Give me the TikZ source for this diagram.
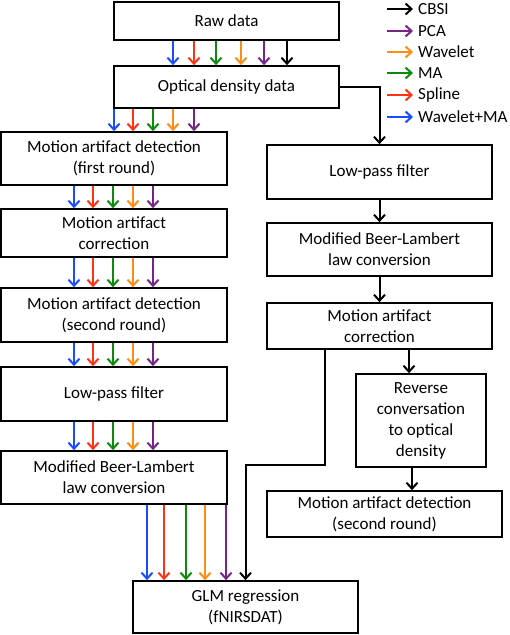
\documentclass[tikz,border=0pt]{standalone}
\usepackage{fontspec}
\setmainfont{Carlito}
\usetikzlibrary{arrows.meta,calc}
\definecolor{cblue}{RGB}{25,75,255}
\definecolor{cred}{RGB}{255,50,20}
\definecolor{cgreen}{RGB}{10,140,10}
\definecolor{corange}{RGB}{255,140,20}
\definecolor{cpurple}{RGB}{120,35,135}
\begin{document}
\begin{tikzpicture}[x=1pt,y=-1pt,
  box/.style={draw=black,line width=1.7pt,inner sep=0pt,align=center,font=\fontsize{17}{21}\selectfont},
  arr/.style={line width=2pt,-{Straight Barb[length=6pt,width=11pt]}},
  lab/.style={anchor=west,inner sep=0pt,font=\fontsize{17}{21}\selectfont}]
\useasboundingbox (0,0) rectangle (510,635);
% left column
\node[box,minimum width=225pt,minimum height=38pt] (raw) at (226.5,21) {Raw data};
\node[box,minimum width=225pt,minimum height=42pt] (od) at (226.5,87) {Optical density data};
\node[box,minimum width=226pt,minimum height=53pt] (mad1) at (114,158.5) {Motion artifact detection\\(first round)};
\node[box,minimum width=226pt,minimum height=48pt] (mac) at (114,233) {Motion artifact\\correction};
\node[box,minimum width=226pt,minimum height=54pt] (mad2) at (114,315) {Motion artifact detection\\(second round)};
\node[box,minimum width=226pt,minimum height=54pt] (lpf) at (114,394) {Low-pass filter};
\node[box,minimum width=226pt,minimum height=53pt] (mbl) at (114,477.5) {Modified Beer-Lambert\\law conversion};
\node[box,minimum width=225pt,minimum height=52pt] (glm) at (245.5,607) {GLM regression\\(fNIRSDAT)};
% right column
\node[box,minimum width=225pt,minimum height=54pt] (lpfR) at (379.5,172) {Low-pass filter};
\node[box,minimum width=225pt,minimum height=53pt] (mblR) at (379.5,249.5) {Modified Beer-Lambert\\law conversion};
\node[box,minimum width=225pt,minimum height=46pt] (macR) at (379.5,326) {Motion artifact\\correction};
\node[box,minimum width=130pt,minimum height=93pt] (rev) at (421,420.5) {Reverse\\conversation\\to optical\\density};
\node[box,minimum width=235pt,minimum height=46pt] (mad2R) at (384.5,514) {Motion artifact detection\\(second round)};
% raw -> od
\foreach \x/\c in {173/cblue,194/cred,216/cgreen,241/corange,264/cpurple,287/black}
  \draw[arr,\c] (raw.south -| \x,0) -- (od.north -| \x,0);
% od -> mad1
\foreach \x/\c in {114/cblue,133/cred,153/cgreen,173/corange,194/cpurple}
  \draw[arr,\c] (od.south -| \x,0) -- (mad1.north -| \x,0);
% left chain
\foreach \a/\b in {mad1/mac,mac/mad2,mad2/lpf,lpf/mbl}
  \foreach \x/\c in {74/cblue,93/cred,113/cgreen,133/corange,153/cpurple}
    \draw[arr,\c] (\a.south -| \x,0) -- (\b.north -| \x,0);
% mbl -> glm
\foreach \x/\c in {147/cblue,164/cred,186/cgreen,205/corange,226/cpurple}
  \draw[arr,\c] (mbl.south -| \x,0) -- (glm.north -| \x,0);
% right chain
\draw[arr,black] (od.east) -| (lpfR.north);
\draw[arr,black] (lpfR.south) -- (mblR.north);
\draw[arr,black] (mblR.south) -- (macR.north);
\draw[arr,black] (macR.south -| 409,0) -- (rev.north -| 409,0);
\draw[arr,black] (rev.south -| 412,0) -- (mad2R.north -| 412,0);
\coordinate (bend) at (325,465);
\draw[arr,black] (macR.south -| bend) -- (bend) -| (glm.north);
% legend
\foreach \y/\c/\t [count=\i] in {9/black/CBSI,31/cpurple/PCA,52/corange/Wavelet,73/cgreen/MA,95/cred/Spline,117/cblue/Wavelet+MA}{
  \node[lab] (leg\i) at (418,\y) {\t};
  \draw[arr,\c] ($(leg\i.west)+(-31,0)$) -- ($(leg\i.west)+(-5,0)$);
}
\end{tikzpicture}
\end{document}
